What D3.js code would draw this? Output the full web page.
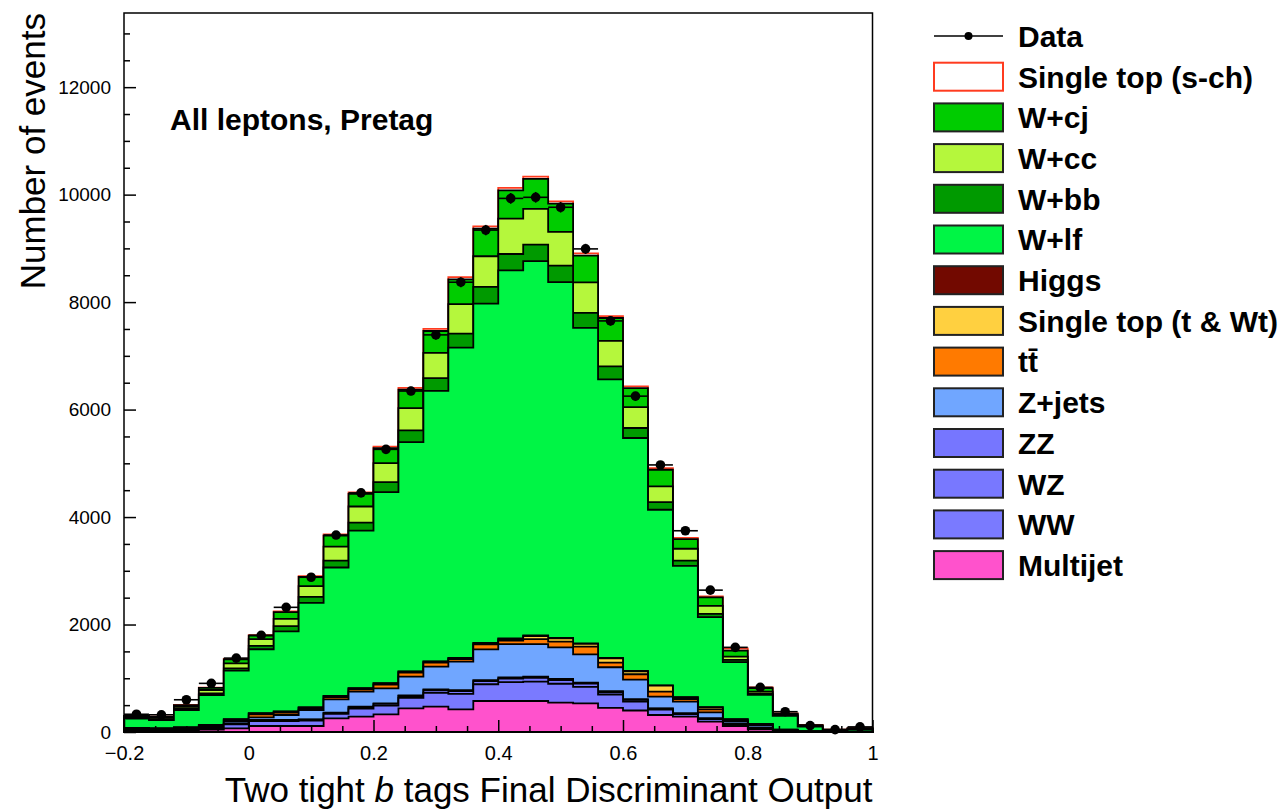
<!DOCTYPE html>
<html>
<head>
<meta charset="utf-8">
<script src="https://cdn.jsdelivr.net/npm/d3@7"></script>
<style>
  body { margin: 0; background: #fff; }
  text { font-family: "Liberation Sans", Arial, Helvetica, sans-serif; }
</style>
</head>
<body>
<svg id="chart" width="1283" height="809"></svg>
<script>
// 30 bins of width 0.04 between -0.2 and 1
const binLow = d3.range(30).map(i => -0.2 + i * 0.04)
const binWidth = 0.04

// events per bin, bottom of the stack first
const multijet = [30, 25, 35, 45, 68, 112, 112, 112, 254, 285, 329, 440, 471, 422, 577, 577, 577, 546, 533, 450, 400, 316, 285, 192, 112, 50, 15, 3, 1, 1]
const ww = [13, 12, 13, 24, 74, 89, 89, 99, 85, 149, 163, 194, 258, 287, 312, 352, 362, 352, 308, 248, 168, 99, 50, 50, 30, 24, 8, 2, 1, 1]
const wz = [3, 2, 3, 5, 14, 17, 17, 19, 16, 28, 31, 36, 48, 54, 59, 66, 68, 66, 58, 46, 31, 19, 9, 9, 5, 5, 2, 0, 0, 0]
const zz = [1, 1, 1, 1, 5, 5, 5, 6, 5, 9, 10, 12, 17, 18, 19, 22, 23, 22, 19, 16, 11, 6, 3, 3, 2, 1, 0, 0, 0, 0]
const zjets = [18, 15, 18, 35, 44, 50, 93, 173, 248, 279, 279, 348, 422, 527, 571, 620, 607, 589, 527, 445, 365, 217, 217, 112, 43, 50, 10, 3, 2, 2]
const ttbar = [7, 7, 10, 12, 20, 57, 45, 35, 42, 45, 68, 75, 74, 47, 92, 63, 93, 105, 143, 85, 100, 93, 50, 56, 23, 10, 5, 2, 1, 1]
const stopT = [6, 6, 7, 8, 11, 17, 20, 12, 20, 17, 25, 17, 18, 16, 20, 30, 56, 63, 52, 81, 55, 112, 31, 37, 21, 10, 5, 2, 1, 1]
const higgs = [0, 0, 0, 1, 1, 2, 2, 3, 3, 4, 5, 6, 7, 8, 9, 10, 10, 10, 9, 8, 7, 6, 5, 4, 3, 2, 1, 0, 0, 0]
const wlf = [170, 155, 322, 558, 905, 1191, 1488, 1945, 2388, 2933, 3554, 4268, 5032, 5774, 6313, 6852, 6965, 6617, 5870, 5184, 4334, 3268, 2440, 1674, 1060, 538, 253, 87, 24, 44]
const wbb = [14, 17, 26, 31, 43, 62, 99, 110, 130, 149, 186, 216, 240, 260, 310, 303, 309, 310, 279, 242, 186, 143, 100, 62, 44, 22, 12, 9, 4, 7]
const wcc = [20, 22, 35, 62, 93, 125, 136, 200, 260, 298, 353, 416, 470, 550, 571, 659, 664, 626, 571, 473, 387, 291, 220, 149, 61, 40, 15, 10, 4, 6]
const wcj = [16, 20, 30, 39, 75, 65, 125, 170, 204, 236, 279, 341, 405, 460, 514, 527, 558, 527, 496, 426, 357, 310, 180, 156, 110, 65, 15, 10, 4, 7]
const stopS = [2, 2, 3, 5, 8, 12, 15, 18, 22, 26, 30, 34, 38, 40, 42, 44, 44, 42, 40, 36, 32, 28, 24, 20, 40, 15, 6, 2, 1, 1]

const data = [330, 320, 600, 905, 1375, 1800, 2320, 2880, 3665, 4450, 5260, 6345, 7390, 8370, 9340, 9930, 9950, 9765, 8990, 7650, 6250, 4970, 3745, 2640, 1575, 830, 378, 120, 45, 95]

const xMajor = [-0.2, 0, 0.2, 0.4, 0.6, 0.8, 1]
const xMinor = [-0.15, -0.1, -0.05, 0.05, 0.1, 0.15, 0.25, 0.3, 0.35, 0.45, 0.5, 0.55, 0.65, 0.7, 0.75, 0.85, 0.9, 0.95]
const yMajor = [0, 2000, 4000, 6000, 8000, 10000, 12000]
const yMinor = [500, 1000, 1500, 2500, 3000, 3500, 4500, 5000, 5500, 6500, 7000, 7500, 8500, 9000, 9500, 10500, 11000, 11500, 12500, 13000]

// stack layers, bottom -> top
const layers = [
  {name: "Multijet", values: multijet, fill: "#ff52cc", stroke: "#000"},
  {name: "WW", values: ww, fill: "#7a7aff", stroke: "#000"},
  {name: "WZ", values: wz, fill: "#7878ff", stroke: "#000"},
  {name: "ZZ", values: zz, fill: "#7676ff", stroke: "#000"},
  {name: "Z+jets", values: zjets, fill: "#70a6ff", stroke: "#000"},
  {name: "tt\u0304", values: ttbar, fill: "#ff7a00", stroke: "#000"},
  {name: "Single top (t & Wt)", values: stopT, fill: "#ffd040", stroke: "#000"},
  {name: "Higgs", values: higgs, fill: "#720900", stroke: "#000"},
  {name: "W+lf", values: wlf, fill: "#00f545", stroke: "#000"},
  {name: "W+bb", values: wbb, fill: "#009a00", stroke: "#000"},
  {name: "W+cc", values: wcc, fill: "#b5f73c", stroke: "#000"},
  {name: "W+cj", values: wcj, fill: "#00cc00", stroke: "#000"},
  {name: "Single top (s-ch)", values: stopS, fill: "#ffffff", stroke: "#ff3b1f"}
]

const svg = d3.select("#chart")

var x = d3.scaleLinear().domain([-0.2, 1]).range([124, 872.5])
var y = d3.scaleLinear().domain([0, 13380]).range([732, 13])

// cumulative sums
let running = binLow.map(() => 0)
layers.forEach(l => {
  running = running.map((v, i) => v + l.values[i])
  l.cum = running.slice()
})

const area = d3.area()
  .x(d => x(d.x))
  .y0(y(0))
  .y1(d => y(d.v))

const stepPoints = cum => {
  let pts = []
  binLow.forEach((b, i) => {
    pts.push({x: b, v: cum[i]})
    pts.push({x: b + binWidth, v: cum[i]})
  })
  return pts
}

// ROOT style: draw the total first, then each lower cumulative on top
const gHist = svg.append("g")
layers.slice().reverse().forEach(l => {
  gHist.append("path")
    .attr("d", area(stepPoints(l.cum)))
    .attr("fill", l.fill)
    .attr("stroke", l.stroke)
    .attr("stroke-width", 1.8)
    .attr("stroke-linejoin", "miter")
})

// data points
const gData = svg.append("g")
data.forEach((d, i) => {
  const cx = x(binLow[i] + binWidth / 2)
  const err = Math.sqrt(d)
  gData.append("line")
    .attr("x1", x(binLow[i])).attr("x2", x(binLow[i] + binWidth))
    .attr("y1", y(d)).attr("y2", y(d))
    .attr("stroke", "#000").attr("stroke-width", 1.6)
  gData.append("line")
    .attr("x1", cx).attr("x2", cx)
    .attr("y1", y(d - err)).attr("y2", y(d + err))
    .attr("stroke", "#000").attr("stroke-width", 1.6)
  gData.append("circle")
    .attr("cx", cx).attr("cy", y(d)).attr("r", 4.8)
    .attr("fill", "#000")
})

// axes, ticks inside the frame
const xAxis = svg.append("g")
  .attr("transform", `translate(0,${y(0)})`)
  .call(d3.axisBottom(x).tickValues(xMajor).tickSize(-12).tickPadding(14)
    .tickFormat(d => d3.format("")(+d.toFixed(1))))
xAxis.select(".domain").remove()
svg.append("g")
  .attr("transform", `translate(0,${y(0)})`)
  .call(d3.axisBottom(x).tickValues(xMinor).tickSize(-6).tickFormat(""))
  .call(g => g.select(".domain").remove())

const yAxis = svg.append("g")
  .attr("transform", `translate(${x(-0.2)},0)`)
  .call(d3.axisLeft(y).tickValues(yMajor).tickSize(-12).tickPadding(13).tickFormat(d3.format("d")))
yAxis.select(".domain").remove()
svg.append("g")
  .attr("transform", `translate(${x(-0.2)},0)`)
  .call(d3.axisLeft(y).tickValues(yMinor).tickSize(-6).tickFormat(""))
  .call(g => g.select(".domain").remove())

svg.selectAll(".tick line").attr("stroke", "#000").attr("stroke-width", 1.5)
svg.selectAll(".tick text")
  .attr("font-family", "Liberation Sans, Arial, sans-serif")
  .attr("fill", "#000")
xAxis.selectAll(".tick text").attr("font-size", 20)
yAxis.selectAll(".tick text").attr("font-size", 19)

// frame
svg.append("rect")
  .attr("x", x(-0.2)).attr("y", y(13380))
  .attr("width", x(1) - x(-0.2)).attr("height", y(0) - y(13380))
  .attr("fill", "none").attr("stroke", "#000").attr("stroke-width", 1.5)

// axis titles
const xt = svg.append("text")
  .attr("x", x(1)).attr("y", 802)
  .attr("text-anchor", "end")
  .attr("font-size", 35)
xt.append("tspan").text("Two tight ")
xt.append("tspan").attr("font-style", "italic").text("b")
xt.append("tspan").text(" tags Final Discriminant Output")

svg.append("text")
  .attr("transform", `translate(45,${y(13380)}) rotate(-90)`)
  .attr("text-anchor", "end")
  .attr("font-size", 35)
  .text("Number of events")

svg.append("text")
  .attr("x", 170).attr("y", 130)
  .attr("font-size", 30).attr("font-weight", "bold")
  .text("All leptons, Pretag")

// legend
const legend = svg.append("g").attr("transform", "translate(934,36)")
const step = 40.7
legend.append("line")
  .attr("x1", 0).attr("x2", 69).attr("y1", 0).attr("y2", 0)
  .attr("stroke", "#000").attr("stroke-width", 1.5)
legend.append("circle").attr("cx", 34.5).attr("cy", 0).attr("r", 4).attr("fill", "#000")
legend.append("text")
  .attr("x", 84).attr("y", 0).attr("dy", "0.36em")
  .attr("font-size", 30).attr("font-weight", "bold")
  .text("Data")

layers.slice().reverse().forEach((l, i) => {
  const g = legend.append("g").attr("transform", `translate(0,${(i + 1) * step})`)
  g.append("rect")
    .attr("x", 0).attr("y", -14).attr("width", 69).attr("height", 28)
    .attr("fill", l.fill)
    .attr("stroke", l.stroke === "#000" ? "#222" : l.stroke)
    .attr("stroke-width", 2)
  g.append("text")
    .attr("x", 84).attr("y", 0).attr("dy", "0.36em")
    .attr("font-size", 30).attr("font-weight", "bold")
    .text(l.name)
})
</script>
</body>
</html>
